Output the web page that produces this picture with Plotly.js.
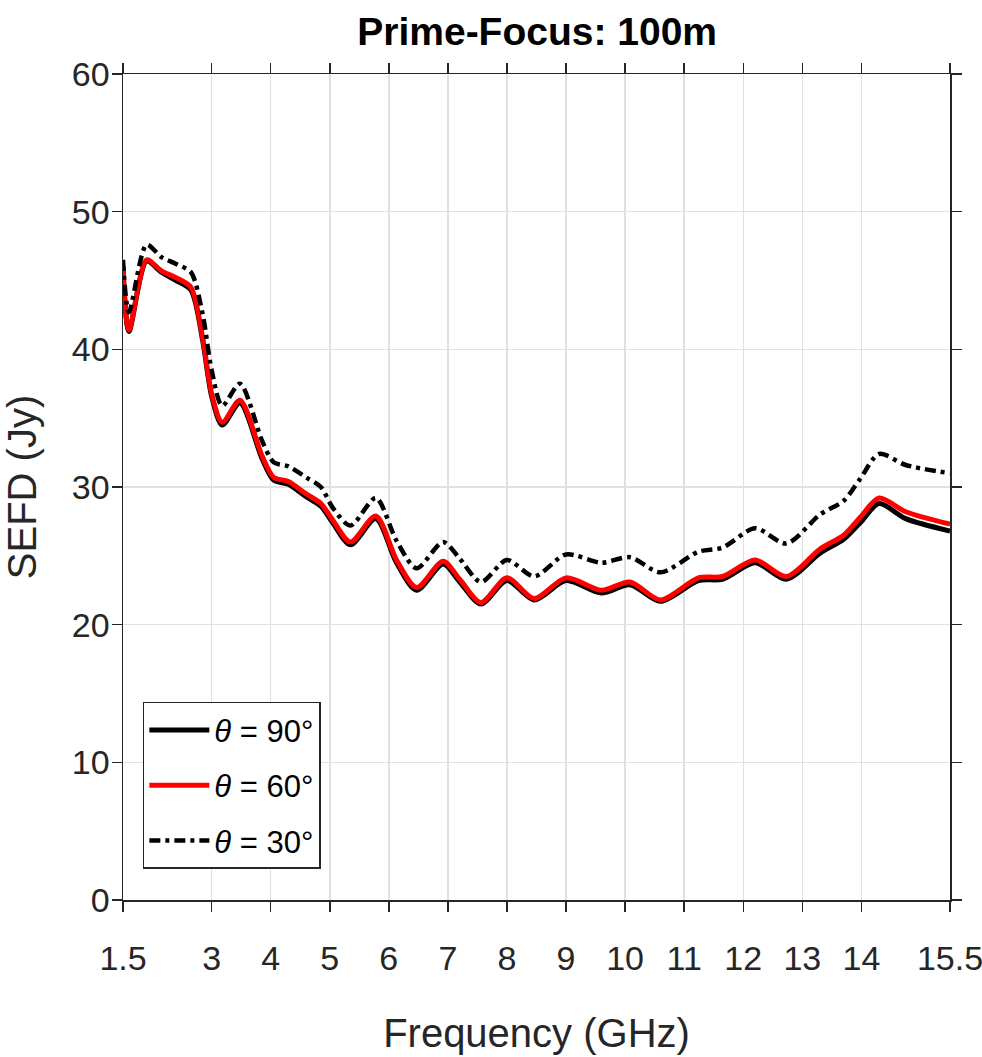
<!DOCTYPE html>
<html>
<head>
<meta charset="utf-8">
<script src="https://cdn.plot.ly/plotly-3.0.1.min.js"></script>
<style>html,body{margin:0;padding:0;background:#fff;}#chart{width:982px;height:1057px;}</style>
</head>
<body>
<div id="chart"></div>
<script>
const freq = [1.5, 1.6, 1.9, 2.15, 2.4, 2.65, 2.85, 3.0, 3.18, 3.48, 3.85, 4.05, 4.3, 4.6, 4.85, 5.05, 5.35, 5.78, 6.13, 6.47, 6.92, 7.2, 7.56, 8.0, 8.46, 9.0, 9.6, 10.08, 10.6, 11.24, 11.65, 12.2, 12.73, 13.3, 13.7, 13.98, 14.3, 14.75, 15.5];
const sefd90 = [45.9, 41.3, 46.4, 45.6, 45.0, 44.3, 40.6, 36.6, 34.5, 36.1, 32.1, 30.5, 30.2, 29.3, 28.6, 27.4, 25.8, 27.7, 24.5, 22.5, 24.4, 23.1, 21.5, 23.2, 21.8, 23.2, 22.3, 22.9, 21.7, 23.2, 23.3, 24.5, 23.3, 25.2, 26.2, 27.4, 28.8, 27.7, 26.8];
const sefd60 = [46.0, 41.4, 46.5, 45.7, 45.2, 44.5, 40.8, 36.8, 34.7, 36.3, 32.3, 30.7, 30.4, 29.5, 28.8, 27.6, 26.0, 27.9, 24.7, 22.7, 24.6, 23.3, 21.6, 23.4, 21.9, 23.4, 22.5, 23.1, 21.8, 23.4, 23.5, 24.7, 23.5, 25.5, 26.5, 27.8, 29.2, 28.2, 27.3];
const sefd30 = [46.5, 42.7, 47.6, 46.7, 46.2, 45.6, 42.5, 38.5, 35.9, 37.5, 33.4, 31.8, 31.5, 30.7, 30.0, 28.5, 27.2, 29.2, 26.1, 24.1, 26.0, 24.8, 23.1, 24.7, 23.5, 25.1, 24.5, 24.9, 23.8, 25.3, 25.6, 27.0, 25.9, 28.0, 29.0, 30.6, 32.4, 31.6, 31.0];
const xTicks = [1.5, 3, 4, 5, 6, 7, 8, 9, 10, 11, 12, 13, 14, 15.5];
const xTickText = ['1.5', '3', '4', '5', '6', '7', '8', '9', '10', '11', '12', '13', '14', '15.5'];
const yTicks = [0, 10, 20, 30, 40, 50, 60];
const names = ['<i>θ</i> = 90°', '<i>θ</i> = 60°', '<i>θ</i> = 30°'];

const FONT = '"Liberation Sans", Arial, sans-serif';
const TXT = '#262626';

const traces = [
  {x: freq, y: sefd90, name: names[0], legendgroup: 'a', mode: 'lines', line: {color: '#000000', width: 5, shape: 'spline', smoothing: 0.8}},
  {x: freq, y: sefd60, name: names[1], legendgroup: 'b', mode: 'lines', line: {color: '#ff0000', width: 5, shape: 'spline', smoothing: 0.8}},
  {x: freq, y: sefd30, name: names[2], legendgroup: 'c', mode: 'lines', line: {color: '#000000', width: 4.5, dash: '11px,5px,4px,5px', shape: 'spline', smoothing: 0.8}}
];

const axisCommon = {
  showline: true, mirror: 'ticks', linecolor: TXT, linewidth: 1.5,
  ticks: 'outside', ticklen: 10, tickwidth: 1.5, tickcolor: TXT,
  showgrid: true, gridcolor: '#e0e0e0', gridwidth: 1.5, zeroline: false,
  ticklabeloverflow: 'allow',
  tickfont: {family: FONT, size: 34, color: TXT}
};

const layout = {
  width: 982, height: 1057,
  margin: {l: 123, r: 32, t: 74, b: 157},
  paper_bgcolor: '#ffffff', plot_bgcolor: '#ffffff',
  title: {text: '<b>Prime-Focus: 100m</b>', x: 0.547, xanchor: 'center', y: 0.97, yanchor: 'middle',
          font: {family: FONT, size: 39, color: '#000000'}},
  xaxis: Object.assign({}, axisCommon, {
    range: [1.5, 15.5], tickmode: 'array', tickvals: xTicks, ticktext: xTickText,
    ticklabelstandoff: 18,
    title: {text: 'Frequency (GHz)', font: {family: FONT, size: 40, color: TXT}, standoff: 42}
  }),
  yaxis: Object.assign({}, axisCommon, {
    range: [0, 60], tickmode: 'array', tickvals: yTicks,
    ticklabelstandoff: -5,
    title: {text: 'SEFD (Jy)', font: {family: FONT, size: 40, color: TXT}, standoff: 24}
  }),
  showlegend: true,
  legend: {
    x: 0.024, y: 0.24, xanchor: 'left', yanchor: 'top',
    bgcolor: '#ffffff', bordercolor: TXT, borderwidth: 1.5,
    font: {family: FONT, size: 31, color: '#000000'},
    tracegroupgap: 12, itemwidth: 60
  }
};

Plotly.newPlot('chart', traces, layout, {displayModeBar: false, staticPlot: true});
</script>
</body>
</html>
